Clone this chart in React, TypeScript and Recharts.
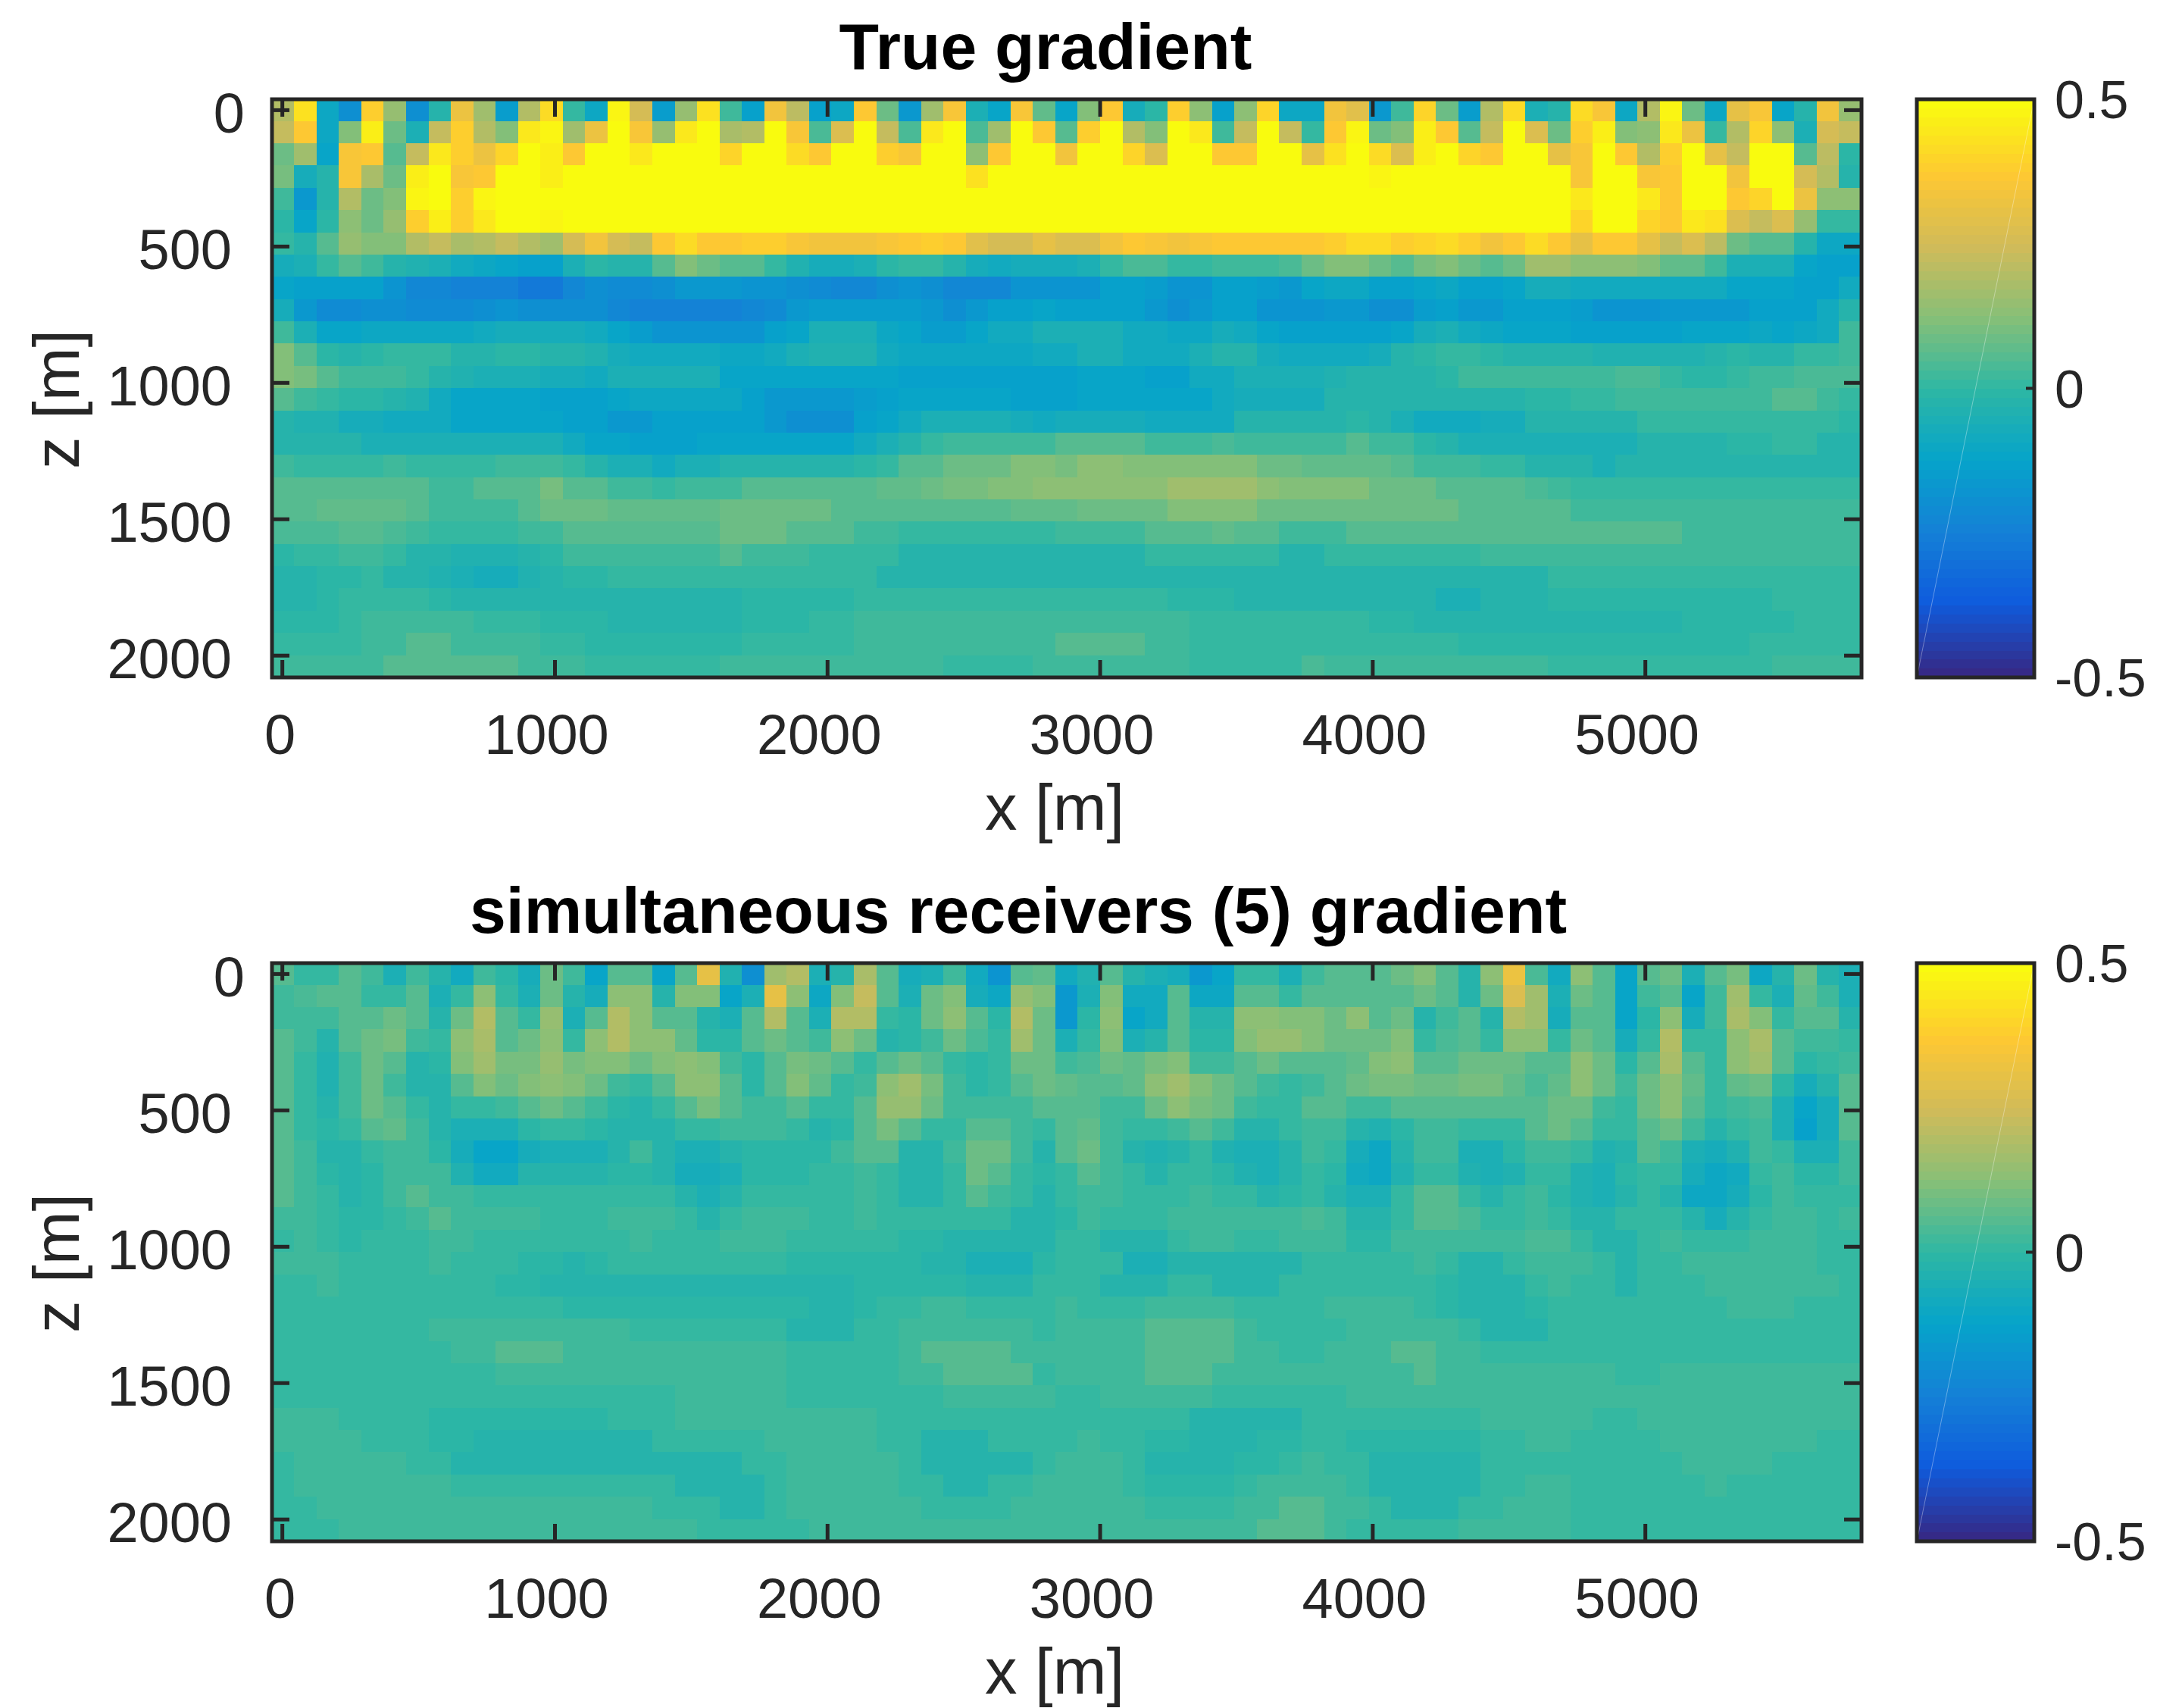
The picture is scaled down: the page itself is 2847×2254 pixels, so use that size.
import React from 'react';
import { ComposedChart, Scatter, XAxis, YAxis, ReferenceArea, ReferenceLine } from 'recharts';

const xTicks = [0, 1000, 2000, 3000, 4000, 5000];
const zTicks = [0, 500, 1000, 1500, 2000];
const barTicks = [-0.5, 0, 0.5];
const parulaStops = ['#352A87', '#0F5CDD', '#1481D6', '#06A4CA', '#2EB7A4', '#87BF77', '#D1BB59', '#FEC832', '#F9FB0E'];

// Gradient values, in hundredths, one list per depth row, 71 columns each.
const t00 = [20,43,-10,-20,39,15,-20,-2,32,16,-15,19,41,0,-10,47,25,-15,15,43,2,-14,34,21,-14,-10,37,8,-17,16,35,-6,-11,35,7,-11,11,37,-7,-1,38,14,-14,13,40,-10,-10,33,29,-17,3,40,9,-15,19,42,-6,-2,41,35,-10,19,48,8,-10,30,35,-11,-2,34,15];
const t01 = [23,37,-10,11,46,9,-6,22,38,19,11,45,47,16,32,50,35,15,45,50,18,20,50,35,4,27,50,22,4,45,50,4,16,50,36,5,39,50,19,11,50,45,3,22,50,22,1,37,48,9,11,46,36,6,22,50,27,9,39,46,11,14,45,32,0,19,40,13,-6,25,22];
const t02 = [8,16,-11,35,37,6,23,45,39,32,40,50,46,37,50,50,44,50,50,50,40,50,50,42,36,50,50,39,35,50,50,14,37,50,50,34,50,50,40,27,50,50,36,36,50,50,30,43,50,41,27,46,50,40,37,50,50,30,35,50,36,19,39,50,30,22,50,50,6,21,-1];
const t03 = [10,-7,-2,35,18,8,46,50,35,37,50,50,46,50,50,50,50,50,50,50,50,50,50,50,50,50,50,50,50,50,50,43,50,50,50,50,50,50,50,50,50,50,50,50,50,50,50,50,50,48,50,50,50,50,50,50,50,50,35,50,50,35,36,50,50,34,50,50,25,20,-2];
const t04 = [2,-17,-2,19,8,11,47,50,38,47,50,50,50,50,50,50,50,50,50,50,50,50,50,50,50,50,50,50,50,50,50,50,50,50,50,50,50,50,50,50,50,50,50,50,50,50,50,50,50,50,50,50,50,50,50,50,50,50,44,50,50,44,37,50,50,36,40,50,32,13,13];
const t05 = [-1,-12,-1,13,8,15,39,46,38,44,50,50,48,50,50,50,50,50,50,50,50,50,50,50,50,50,50,50,50,50,50,50,50,50,50,50,50,50,50,50,50,50,50,50,50,50,50,50,50,50,50,50,50,50,50,50,50,50,40,50,50,40,36,44,43,27,22,27,15,0,0];
const t06 = [0,-2,6,15,11,11,20,23,18,19,22,19,16,25,33,25,23,36,41,37,36,38,38,35,33,34,33,35,36,38,36,29,25,25,30,27,27,33,37,35,33,35,36,36,36,37,37,39,41,41,38,40,42,39,33,37,41,37,31,36,37,30,23,27,21,9,6,6,-2,-10,-10];
const t07 = [-7,-6,0,5,2,-2,-4,-6,-9,-10,-11,-14,-14,-6,-1,-3,-3,5,11,9,6,5,1,-4,-7,-7,-6,-1,0,1,-3,-7,-8,-7,-7,-7,-5,0,4,4,0,0,3,3,3,4,8,11,11,9,6,10,11,9,5,9,16,16,13,13,13,11,7,7,2,-5,-6,-5,-11,-13,-13];
const t08 = [-11,-14,-14,-14,-14,-18,-22,-23,-25,-25,-25,-28,-28,-23,-19,-21,-21,-19,-17,-17,-16,-18,-18,-19,-21,-23,-22,-19,-18,-19,-22,-23,-22,-18,-18,-18,-18,-14,-14,-15,-18,-18,-14,-14,-15,-16,-11,-10,-10,-13,-13,-11,-10,-13,-13,-11,-7,-7,-8,-8,-8,-8,-8,-8,-9,-11,-11,-11,-13,-14,-8];
const t09 = [-7,-17,-21,-21,-19,-19,-21,-21,-21,-19,-18,-19,-19,-19,-19,-23,-25,-25,-24,-24,-24,-23,-21,-17,-15,-15,-15,-15,-15,-17,-20,-17,-13,-13,-11,-14,-14,-14,-14,-17,-19,-17,-14,-14,-18,-18,-18,-16,-16,-19,-19,-15,-14,-17,-17,-14,-14,-14,-15,-18,-18,-18,-16,-16,-16,-16,-13,-13,-13,-8,-3];
const t10 = [3,-6,-11,-12,-10,-10,-10,-10,-10,-9,-7,-7,-7,-7,-9,-12,-15,-18,-18,-18,-18,-18,-14,-11,-5,-5,-5,-10,-12,-15,-15,-11,-9,-9,-6,-6,-6,-6,-8,-9,-10,-10,-7,-8,-11,-13,-13,-13,-13,-13,-11,-7,-6,-9,-10,-12,-12,-12,-13,-13,-13,-13,-13,-12,-12,-11,-10,-11,-10,-9,2];
const t11 = [11,5,-1,-3,-1,0,0,0,-2,-2,-1,-1,-2,-2,-4,-7,-8,-8,-8,-9,-10,-10,-8,-5,-4,-4,-4,-8,-10,-10,-10,-10,-10,-10,-8,-8,-6,-6,-8,-9,-9,-5,-2,-2,-7,-8,-8,-8,-8,-7,-2,-1,1,0,-1,-3,-3,-3,-3,-4,-4,-4,-4,-4,-2,-1,-2,-2,0,0,3];
const t12 = [11,10,5,2,2,2,1,-2,-4,-6,-5,-5,-7,-7,-9,-6,-5,-5,-5,-6,-11,-11,-12,-11,-11,-11,-11,-11,-13,-13,-13,-13,-13,-13,-13,-13,-12,-11,-11,-13,-13,-9,-8,-6,-6,-6,-6,-4,-3,-3,-2,-2,-1,2,2,2,2,2,2,2,4,4,0,-1,-1,0,2,2,4,4,4];
const t13 = [5,3,0,-1,-1,-2,-4,-8,-11,-11,-11,-11,-13,-13,-13,-12,-10,-10,-10,-10,-10,-13,-17,-17,-17,-17,-15,-13,-12,-12,-11,-11,-11,-13,-13,-14,-11,-11,-11,-11,-11,-11,-9,-7,-7,-7,-7,-3,-3,-3,-3,-3,-3,-3,-2,-2,-1,-1,1,1,3,3,3,2,2,2,2,5,5,2,0];
const t14 = [-2,-4,-4,-7,-7,-8,-8,-9,-11,-11,-11,-11,-12,-14,-14,-16,-16,-14,-14,-14,-13,-14,-17,-20,-20,-20,-13,-12,-8,-5,-5,-6,-6,-7,-8,-7,-7,-7,-7,-9,-9,-8,-8,-3,-3,-3,-3,-2,-1,-2,-5,-8,-9,-9,-7,-7,-3,-3,-3,-2,-2,0,0,0,0,0,1,1,1,1,-1];
const t15 = [-2,-3,-3,-3,-5,-5,-5,-5,-5,-5,-5,-5,-5,-8,-11,-11,-13,-13,-13,-11,-11,-11,-12,-12,-12,-12,-8,-5,-2,0,3,3,3,3,3,5,5,5,5,3,3,3,4,3,3,3,3,3,6,3,2,-1,-2,-5,-5,-5,-5,-5,-5,-5,-5,-3,-3,-3,-3,-1,-1,0,0,-2,-2];
const t16 = [3,0,0,0,0,2,0,0,0,1,3,3,3,0,-3,-5,-6,-8,-6,-5,-3,-3,-3,-3,-3,-3,-1,1,5,6,8,9,9,11,11,10,13,13,11,11,11,11,11,11,9,9,7,7,7,7,6,3,2,2,0,0,-2,-3,-3,-6,-3,-3,-3,-3,-2,-2,-2,-2,-2,-2,-2];
const t17 = [6,6,6,6,6,6,6,3,3,5,5,6,10,6,5,3,2,1,2,3,3,5,5,5,5,5,5,7,7,8,10,10,11,11,13,13,14,13,13,13,16,16,16,16,13,11,11,11,11,9,9,8,6,6,5,5,4,2,0,0,0,0,0,0,0,0,0,0,0,0,0];
const t18 = [5,5,7,7,7,7,5,3,2,2,3,5,8,8,8,7,7,7,7,7,8,8,8,8,8,6,6,5,5,5,6,6,6,7,7,7,9,9,9,9,11,11,11,11,9,9,8,8,8,8,8,8,8,6,6,6,6,5,3,3,3,3,3,3,2,2,2,2,2,2,2];
const t19 = [4,4,4,6,6,4,2,1,0,0,0,2,3,5,6,6,6,6,6,6,8,8,8,5,5,5,3,3,1,1,1,1,1,1,1,2,3,3,3,5,5,5,7,5,5,3,3,3,5,5,5,5,5,5,5,5,5,5,5,5,5,5,5,3,3,3,3,2,2,2,2];
const t20 = [-1,0,0,2,2,0,-2,-3,-4,-4,-4,-2,-1,2,3,3,3,3,3,3,5,3,3,3,1,1,0,0,-2,-2,-2,-2,-2,-2,-2,-2,-2,-2,-2,0,0,0,0,0,0,-2,-2,0,0,0,0,0,0,0,2,2,2,3,3,3,3,3,3,3,2,2,2,2,2,2,2];
const t21 = [-3,-3,-1,-1,0,-2,-2,-4,-5,-7,-7,-4,-3,-1,-1,0,0,0,0,0,0,0,0,0,0,0,0,-2,-2,-2,-2,-2,-2,-2,-2,-2,-2,-2,-2,-2,-2,-2,-3,-3,-3,-3,-3,-3,-3,-3,-3,-3,-3,-3,-3,-2,-2,0,0,0,0,0,0,0,0,0,0,0,0,0,0];
const t22 = [-3,-3,-1,0,0,0,0,-1,-3,-3,-3,-3,-3,-3,-3,-3,-3,-3,-3,-3,-3,-1,-1,-1,-1,-1,0,0,0,0,0,0,0,0,0,0,0,0,0,0,-1,-1,-1,-3,-3,-3,-3,-3,-3,-3,-3,-3,-5,-5,-3,-3,-3,-1,-1,-1,-1,-1,-1,-1,-1,-1,-1,0,0,0,0];
const t23 = [-1,-1,-1,1,2,2,2,2,2,0,0,0,-1,-1,-1,-3,-3,-3,-3,-3,-3,-1,-1,-1,0,0,2,2,3,3,3,3,3,3,3,3,3,3,3,2,2,0,0,0,0,0,0,0,0,-1,-1,-3,-3,-3,-3,-3,-3,-3,-3,-3,-3,-3,-3,-1,-1,-1,-1,-1,0,0,0];
const t24 = [1,1,1,1,3,3,5,5,3,3,3,3,1,0,-1,-1,-1,-1,-1,-1,-1,0,0,1,1,1,3,3,3,3,3,3,3,3,3,5,5,5,5,3,3,1,1,1,1,1,1,1,1,1,0,0,0,-1,-1,-1,-1,-1,-1,-1,-1,-1,-1,-1,-1,-1,0,0,0,0,0];
const t25 = [2,2,2,3,3,5,5,5,5,5,5,2,2,2,0,0,0,0,0,0,2,2,2,2,3,3,3,3,3,3,1,1,1,1,3,3,3,3,3,3,3,1,1,1,1,1,4,2,2,2,2,2,2,2,2,2,2,0,0,0,0,0,0,0,0,0,0,2,2,2,2];

const b00 = [5,0,0,6,2,-6,2,-3,-8,3,-1,-7,8,3,-11,5,6,-11,5,30,-4,-20,16,19,-6,-2,18,6,-7,-5,3,-8,-18,5,7,-9,-4,6,-3,-5,-7,-17,-12,0,0,-6,3,5,5,6,8,11,5,-2,13,32,4,-8,14,6,-11,6,8,-6,6,10,-10,-2,9,-3,-6];
const b01 = [2,4,5,6,0,0,5,-5,0,14,1,-5,9,-3,-7,14,13,-3,11,12,-11,-5,30,14,-10,11,22,6,-5,8,11,-7,-10,15,12,-17,-5,11,-8,-8,5,-10,-10,6,5,1,5,5,5,5,6,9,5,-2,8,27,16,-6,9,6,-11,2,6,-11,2,17,0,-6,7,3,-5];
const b02 = [3,3,3,6,5,9,6,-2,9,19,5,0,15,-6,6,20,14,6,6,-3,-6,6,19,6,-6,20,19,1,-1,9,14,6,-1,19,9,-16,-1,14,-12,-8,5,-2,-2,13,13,12,12,9,14,6,8,-3,3,5,-2,19,17,-7,5,5,-12,-1,13,-7,2,18,11,0,5,5,-3];
const b03 = [6,2,-2,5,9,10,3,0,14,18,6,8,14,1,13,20,14,13,7,-1,-1,5,8,6,3,14,8,-2,-1,3,8,4,1,17,8,-6,1,11,-6,-3,5,-1,-1,11,15,15,11,8,9,9,11,0,4,6,1,14,13,0,8,6,-7,0,19,1,1,14,18,5,3,3,0];
const b04 = [6,0,-4,3,9,6,-2,-1,11,16,10,10,15,10,11,11,8,11,14,11,3,-1,5,10,8,5,1,5,8,6,1,-1,0,9,9,2,4,9,7,10,11,3,2,6,8,6,6,5,7,11,14,6,6,9,9,9,5,6,13,9,-1,6,18,6,1,14,17,6,-1,0,3];
const b05 = [6,0,-4,3,8,3,-2,-2,5,11,9,11,13,11,9,3,0,5,13,13,6,-1,6,11,7,0,3,13,17,10,3,-1,0,5,8,7,6,6,7,13,17,11,9,5,3,1,3,5,8,10,10,8,8,10,10,7,4,7,13,8,2,8,14,7,1,7,9,-1,-7,-3,5];
const b06 = [5,0,-2,2,8,5,0,-2,0,0,2,5,8,6,3,-1,-3,0,6,10,6,3,3,5,0,0,5,15,15,8,3,3,3,3,6,6,6,3,3,8,13,10,8,3,0,0,5,5,3,3,5,6,6,6,6,5,5,8,9,3,1,8,13,6,0,2,4,-5,-12,-7,5];
const b07 = [5,1,-1,0,5,7,3,-2,-5,-5,-5,-1,0,0,-1,-3,-3,-2,0,0,3,2,2,0,-2,-1,5,10,5,1,1,6,6,3,0,5,7,3,0,0,3,5,3,-2,-3,0,3,3,-2,-4,-1,3,3,1,0,0,6,8,5,0,0,6,8,3,-2,0,2,-5,-13,-7,5];
const b08 = [5,3,-3,-3,0,3,3,-1,-7,-11,-11,-7,-5,-5,-5,-3,2,-2,-6,-6,-3,-1,-1,-1,-1,2,5,5,-3,-3,2,8,8,3,-2,5,8,3,-2,-4,-2,0,-4,-6,-6,-3,2,0,-7,-10,-3,2,2,-5,-6,-1,3,3,0,-4,-2,5,3,-6,-7,-4,3,0,-6,-6,3];
const b09 = [5,3,-1,-3,-1,2,3,2,-4,-8,-8,-3,-3,-3,-3,-1,-1,-2,-7,-7,-5,-1,-1,-1,1,1,3,1,-3,-3,1,8,6,1,-1,1,5,3,0,-2,0,1,-1,-4,-6,-2,0,-1,-8,-10,-4,1,1,-4,-6,-4,0,0,-4,-6,-1,1,1,-7,-10,-8,0,2,-1,-1,2];
const b10 = [5,3,0,-3,-1,2,5,3,2,0,0,1,1,0,0,1,1,0,-3,-5,-3,0,0,0,1,1,3,1,-2,-2,1,5,3,0,-2,0,3,3,0,0,1,3,1,0,-2,-1,1,-2,-6,-6,0,5,5,0,-2,0,2,-1,-4,-5,-3,1,-2,-10,-10,-7,-1,2,0,0,1];
const b11 = [3,3,1,-1,-1,1,3,5,3,3,3,3,1,1,1,3,3,2,0,-2,0,2,2,2,0,0,2,0,0,0,1,0,0,-2,-2,-1,2,0,0,0,2,3,3,2,2,2,4,2,-2,-2,1,5,5,4,1,1,3,0,-2,-3,0,0,0,-3,-7,-3,0,2,2,0,2];
const b12 = [1,3,1,-1,0,1,1,3,3,1,1,1,0,0,0,1,3,1,1,0,2,2,2,0,0,0,0,0,-1,-1,-3,-3,-3,-3,-3,1,0,-2,-2,-2,1,2,2,0,0,2,2,2,-1,-1,2,3,3,2,2,2,4,4,1,-2,-2,1,3,0,0,0,2,3,3,1,1];
const b13 = [2,2,2,0,0,0,0,2,0,0,0,-1,-1,-3,-1,0,0,0,0,0,0,0,0,-1,-1,-1,-1,-1,-1,-3,-3,-5,-5,-5,-1,0,0,0,-5,-5,-2,-2,-2,-2,-2,-2,0,0,0,0,0,2,0,-2,-2,0,2,2,2,0,-2,0,0,2,2,2,3,3,3,1,1];
const b14 = [0,0,2,0,0,0,0,0,0,0,-1,-1,-3,-3,-3,-2,-2,-2,-2,-2,-2,-2,-2,-2,-3,-3,-1,-1,-1,-1,-1,-3,-3,-3,0,0,0,-2,-2,-2,1,1,-2,-2,-2,0,0,0,0,0,0,0,-1,-3,-3,-2,0,2,0,0,-2,0,0,0,2,2,3,2,2,2,0];
const b15 = [0,0,0,0,0,0,0,0,0,0,0,0,0,-1,-1,-1,-1,-1,-1,-1,-1,-1,-1,-1,-3,-3,-1,0,0,2,2,0,0,1,1,2,0,0,0,2,2,2,2,0,0,0,0,2,2,2,2,0,-1,-3,-3,-3,-1,0,0,0,0,0,0,0,0,2,2,2,0,0,0];
const b16 = [0,0,0,0,0,0,0,2,2,3,3,3,3,2,2,2,0,0,0,0,0,0,0,-2,-2,-2,0,1,2,3,3,3,3,3,1,2,2,2,3,5,5,5,5,3,1,1,1,1,3,3,3,2,2,0,-2,-2,-2,0,0,0,0,0,0,0,0,0,0,0,0,0,0];
const b17 = [0,0,0,1,1,1,1,1,3,3,5,5,5,3,3,3,2,3,3,3,3,2,2,0,0,0,0,1,3,5,5,5,5,3,3,2,2,2,3,5,6,6,5,3,3,1,1,3,3,3,6,6,3,2,0,0,0,0,0,0,0,0,0,0,0,0,0,0,0,0,0];
const b18 = [0,0,0,0,0,0,0,1,1,1,3,3,3,3,3,3,3,3,3,3,3,3,3,1,1,0,0,1,3,3,5,5,5,5,1,2,2,2,3,5,5,5,3,2,2,2,2,2,3,3,3,5,3,3,2,2,2,2,2,2,0,0,2,2,2,2,2,2,2,2,2];
const b19 = [1,0,0,0,0,0,0,0,0,0,0,1,1,1,1,1,1,1,3,3,3,3,3,1,1,1,0,1,1,1,3,3,3,3,3,0,0,2,2,3,3,2,0,0,0,0,0,0,2,2,2,2,3,2,2,2,2,2,2,2,2,2,2,2,2,2,2,2,2,2,2];
const b20 = [2,2,2,0,0,0,0,-1,-1,-1,-1,-1,-1,-1,-1,0,0,0,2,2,2,2,2,2,2,2,2,0,0,0,0,0,0,0,0,0,0,0,0,0,0,-2,-2,-2,-2,-2,0,0,0,0,0,0,0,0,2,2,2,2,2,0,0,2,2,2,2,2,2,2,2,2,2];
const b21 = [2,2,2,2,0,0,0,-1,-1,-3,-3,-3,-3,-2,-2,-2,-2,0,0,0,0,0,2,2,2,2,2,0,0,-2,-2,-2,0,0,0,0,2,0,0,-1,-1,-3,-3,-3,-1,-1,0,0,-1,-1,-1,-1,-1,-1,0,0,2,2,0,0,0,0,2,2,2,2,2,2,2,0,0];
const b22 = [0,2,2,2,2,2,0,0,-2,-2,-2,-2,-2,-2,-2,-2,-2,-2,-2,-2,-2,0,0,2,2,2,2,2,0,-2,-2,-2,-2,-2,0,2,2,2,0,-2,-3,-3,-3,-1,-1,0,2,0,0,-2,-3,-3,-3,-2,0,0,0,0,0,0,0,0,0,2,2,2,2,0,0,0,0];
const b23 = [0,2,2,2,2,2,2,2,0,0,0,0,0,0,0,0,0,0,-2,-2,-2,-2,0,2,2,3,3,2,0,0,-2,-2,0,0,2,2,2,2,0,-1,-1,-1,-1,1,3,3,3,2,0,-2,-2,-3,-3,-2,0,0,2,2,0,0,0,0,0,0,2,0,0,0,0,0,0];
const b24 = [0,0,2,2,2,2,3,3,2,2,2,2,2,2,2,2,2,0,0,0,-2,-2,0,2,2,3,3,2,2,0,0,0,0,2,2,2,2,2,2,0,0,0,0,3,3,5,5,3,2,0,-2,-2,-2,0,0,2,2,2,0,0,0,0,0,0,0,0,0,0,0,0,0];
const b25 = [0,0,0,2,2,2,3,3,3,3,3,3,3,3,3,3,2,2,2,0,0,0,0,0,2,2,3,3,2,2,2,2,2,2,2,2,2,2,2,2,2,2,2,3,5,5,5,3,0,0,0,0,0,2,2,2,2,2,0,0,0,0,0,0,0,0,0,0,0,0,0];

const trueGradient = [t00,t01,t02,t03,t04,t05,t06,t07,t08,t09,t10,t11,t12,t13,t14,t15,t16,t17,t18,t19,t20,t21,t22,t23,t24,t25];
const receiverGradient = [b00,b01,b02,b03,b04,b05,b06,b07,b08,b09,b10,b11,b12,b13,b14,b15,b16,b17,b18,b19,b20,b21,b22,b23,b24,b25];

const INK = '#262626';
const FONT = '"Liberation Sans", Arial, sans-serif';
const X_DOMAIN: [number, number] = [-38, 5793];
const Z_DOMAIN: [number, number] = [-40, 2080];
const CELL_X = 82.13;
const CELL_Z = 81.6;
const PANEL_H = 1140;
const PLOT_L = 359, PLOT_R = 2457, PLOT_T = 131, PLOT_B = 894;
const PLOT_W = PLOT_R - PLOT_L, PLOT_H = PLOT_B - PLOT_T;
const CELL_W = (CELL_X * PLOT_W) / (X_DOMAIN[1] - X_DOMAIN[0]) + 0.7;
const CELL_H = (CELL_Z * PLOT_H) / (Z_DOMAIN[1] - Z_DOMAIN[0]) + 0.7;
const BAR_L = 2530, BAR_R = 2685, BAR_B = 894;
const BAR_LEVELS = 64;
const FRAME_Z = 1200;

function hexRgb(h: string) {
  return [1, 3, 5].map((i) => parseInt(h.slice(i, i + 2), 16));
}
function parula(t: number) {
  const p = Math.max(0, Math.min(1, t)) * (parulaStops.length - 1);
  const i = Math.min(parulaStops.length - 2, Math.floor(p));
  const a = hexRgb(parulaStops[i]);
  const b = hexRgb(parulaStops[i + 1]);
  const f = p - i;
  return `rgb(${a.map((c, k) => Math.round(c + (b[k] - c) * f)).join(',')})`;
}
function levelColor(v: number) {
  const level = Math.max(0, Math.min(BAR_LEVELS - 1, Math.floor((v + 0.5) * BAR_LEVELS)));
  return parula(level / (BAR_LEVELS - 1));
}

function cells(rows: number[][]) {
  return rows.flatMap((row, r) =>
    row.map((v, c) => ({ x: X_DOMAIN[0] + (c + 0.5) * CELL_X, z: r * CELL_Z, v: v / 100 })),
  );
}

const HeatCell = (p: any) => (
  <rect
    x={p.cx - CELL_W / 2}
    y={p.cy - CELL_H / 2}
    width={CELL_W}
    height={CELL_H}
    fill={levelColor(p.payload.v)}
    shapeRendering="crispEdges"
  />
);

const XTick = (p: any) => {
  const v = p.payload.value;
  return (
    <g>
      <line x1={p.x} x2={p.x} y1={p.y} y2={p.y - 23} stroke={INK} strokeWidth={5} />
      <line x1={p.x} x2={p.x} y1={p.y - PLOT_H} y2={p.y - PLOT_H + 23} stroke={INK} strokeWidth={5} />
      <text x={p.x + (v === 0 ? -3 : -11)} y={p.y + 101} textAnchor="middle" fontFamily={FONT} fontSize={74} fill={INK}>
        {v}
      </text>
    </g>
  );
};

const ZTick = (p: any) => {
  const v = p.payload.value;
  return (
    <g>
      <line x1={p.x} x2={p.x + 23} y1={p.y} y2={p.y} stroke={INK} strokeWidth={5} />
      <line x1={p.x + PLOT_W} x2={p.x + PLOT_W - 23} y1={p.y} y2={p.y} stroke={INK} strokeWidth={5} />
      <text x={v === 0 ? 323 : 306} y={p.y + 30} textAnchor="end" fontFamily={FONT} fontSize={74} fill={INK}>
        {v}
      </text>
    </g>
  );
};

const BarTick = (p: any) => {
  const v = p.payload.value;
  return (
    <g>
      {v === 0 ? <line x1={p.x} x2={p.x - 11} y1={p.y} y2={p.y} stroke={INK} strokeWidth={4} /> : null}
      <text x={p.x + 27} y={p.y + 25} fontFamily={FONT} fontSize={70} fill={INK}>
        {v}
      </text>
    </g>
  );
};

const barLevels = Array.from({ length: BAR_LEVELS }, (_, i) => ({ x: 0.5, v: (i + 0.5) / BAR_LEVELS - 0.5 }));
const BarCell = (p: any) => (
  <rect
    x={0}
    y={p.cy - (BAR_B - PLOT_T) / BAR_LEVELS / 2 - 0.3}
    width={BAR_R - BAR_L}
    height={(BAR_B - PLOT_T) / BAR_LEVELS + 0.6}
    fill={levelColor(p.payload.v)}
    shapeRendering="crispEdges"
  />
);

function ColorBar() {
  return (
    <ComposedChart
      width={2847 - BAR_L + 4}
      height={PANEL_H}
      margin={{ top: PLOT_T, right: 0, bottom: PANEL_H - BAR_B, left: 4 }}
      style={{ position: 'absolute', left: BAR_L - 4, top: 0 }}
    >
      <XAxis xAxisId="b" type="number" dataKey="x" domain={[0, 1]} hide />
      <Scatter xAxisId="b" yAxisId="b" data={barLevels} dataKey="v" shape={(p: any) => <g transform="translate(4 0)"><BarCell {...p} /></g>} isAnimationActive={false} />
      <ReferenceLine
        xAxisId="b"
        yAxisId="b"
        segment={[{ x: 0, y: -0.5 }, { x: 1, y: 0.5 }]}
        stroke="#ffffff"
        strokeOpacity={0.35}
        strokeWidth={1}
        zIndex={FRAME_Z}
      />
      <ReferenceArea xAxisId="b" yAxisId="b" x1={0} x2={1} y1={-0.5} y2={0.5} fill="none" stroke={INK} strokeWidth={5} zIndex={FRAME_Z} />
      <YAxis
        yAxisId="b"
        orientation="right"
        type="number"
        dataKey="v"
        domain={[-0.5, 0.5]}
        ticks={barTicks}
        width={2847 - BAR_R}
        tickSize={0}
        tickMargin={0}
        axisLine={false}
        tickLine={false}
        interval={0}
        tick={BarTick}
        zIndex={FRAME_Z}
      />
    </ComposedChart>
  );
}

function Panel({ title, titleX, rows, top }: { title: string; titleX: number; rows: number[][]; top: number }) {
  return (
    <div style={{ position: 'absolute', left: 0, top, width: 2847, height: PANEL_H }}>
      <ComposedChart
        width={2847}
        height={PANEL_H}
        margin={{ top: PLOT_T, right: 2847 - PLOT_R, bottom: 0, left: 0 }}
        style={{ position: 'absolute', left: 0, top: 0 }}
      >
        <Scatter data={cells(rows)} dataKey="v" shape={HeatCell} isAnimationActive={false} />
        <ReferenceArea
          x1={X_DOMAIN[0]}
          x2={X_DOMAIN[1]}
          y1={Z_DOMAIN[0]}
          y2={Z_DOMAIN[1]}
          fill="none"
          stroke={INK}
          strokeWidth={5}
          zIndex={FRAME_Z}
        />
        <XAxis
          type="number"
          dataKey="x"
          domain={X_DOMAIN}
          ticks={xTicks}
          height={PANEL_H - PLOT_B}
          tickSize={0}
          tickMargin={0}
          axisLine={false}
          tickLine={false}
          interval={0}
          allowDataOverflow
          tick={XTick}
          zIndex={FRAME_Z}
        />
        <YAxis
          type="number"
          dataKey="z"
          reversed
          domain={Z_DOMAIN}
          ticks={zTicks}
          width={PLOT_L}
          tickSize={0}
          tickMargin={0}
          axisLine={false}
          tickLine={false}
          interval={0}
          allowDataOverflow
          tick={ZTick}
          zIndex={FRAME_Z}
        />
        <text x={titleX} y={91} textAnchor="middle" fontFamily={FONT} fontWeight="bold" fontSize={86} fill="#000">
          {title}
        </text>
        <text x={1392} y={1095} textAnchor="middle" fontFamily={FONT} fontSize={85} fill={INK}>
          x [m]
        </text>
        <text
          x={104}
          y={527}
          textAnchor="middle"
          transform="rotate(-90 104 527)"
          fontFamily={FONT}
          fontSize={85}
          fill={INK}
        >
          z [m]
        </text>
      </ComposedChart>
      <ColorBar />
    </div>
  );
}

export default function App() {
  return (
    <div style={{ position: 'absolute', left: 0, top: 0, width: 2847, height: 2254, background: '#fff', overflow: 'hidden' }}>
      <Panel title="True gradient" titleX={1380} rows={trueGradient} top={0} />
      <Panel title="simultaneous receivers (5) gradient" titleX={1344} rows={receiverGradient} top={1140} />
    </div>
  );
}
